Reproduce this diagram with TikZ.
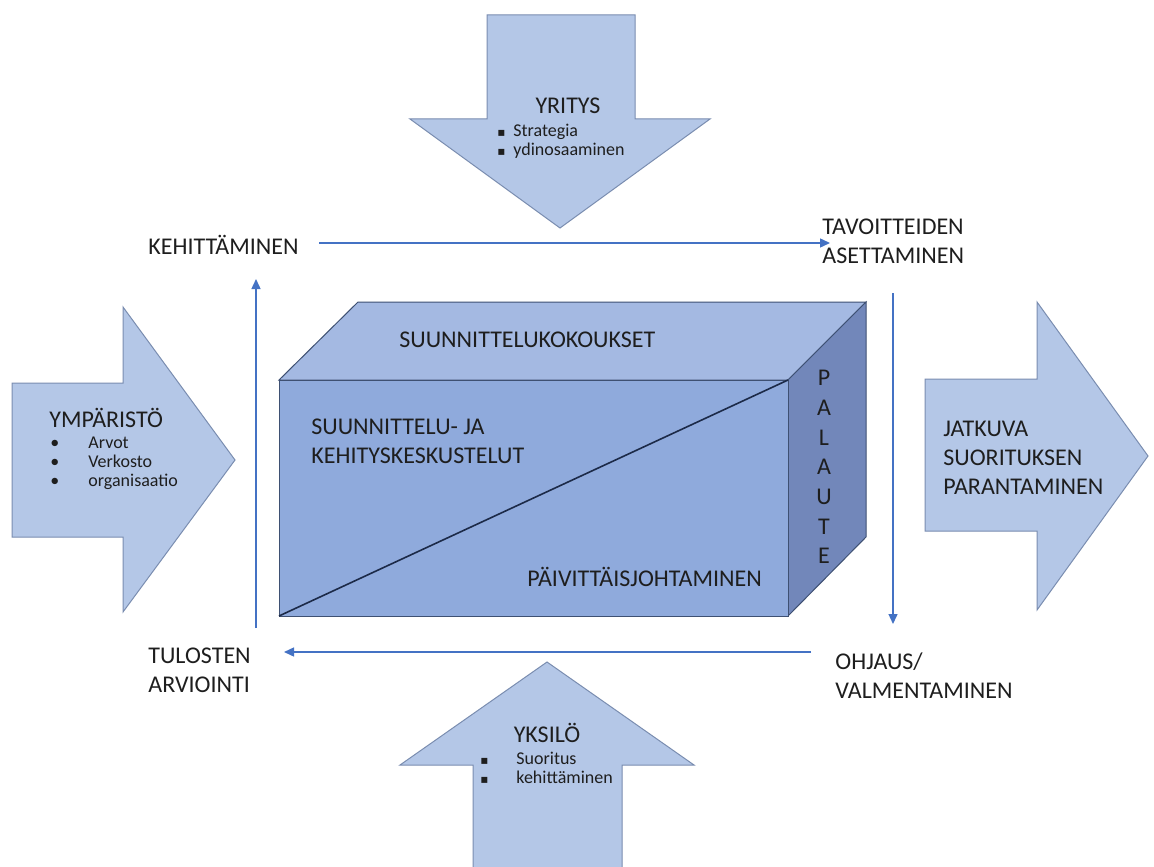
\documentclass[tikz,border=0pt]{standalone}
\usepackage{fontspec}
\setmainfont{Carlito}
\newfontfamily\dejavu{DejaVu Sans}
\usetikzlibrary{arrows.meta}
\definecolor{afill}{HTML}{B4C7E7}
\definecolor{aline}{HTML}{7A8DB0}
\definecolor{bfront}{HTML}{8FAADC}
\definecolor{btop}{HTML}{A4B9E2}
\definecolor{bright}{HTML}{7287BA}
\definecolor{bline}{HTML}{3E5072}
\definecolor{diag}{HTML}{1C2A48}
\definecolor{cblue}{HTML}{4472C4}
\definecolor{txt}{HTML}{1E1E1E}
\newcommand{\sqb}{{\dejavu\fontsize{6}{6}\selectfont\char"25AA}}
\begin{document}
\begin{tikzpicture}[x=0.5pt,y=-0.5pt,
  shapearrow/.style={fill=afill,draw=aline,line width=0.5pt,line join=miter},
  boxface/.style={draw=bline,line width=0.5pt,line join=miter},
  lbl/.style={inner sep=0pt,text=txt,font=\fontsize{12}{14.5}\selectfont,align=left},
  small/.style={inner sep=0pt,text=txt,font=\fontsize{9}{9.6}\selectfont,align=left},
  conn/.style={draw=cblue,line width=0.7pt,-{Triangle[length=5pt,width=4.5pt]}}]
\useasboundingbox (0,0) rectangle (1154,866);
\clip (0,0) rectangle (1154,866);
\fill[white] (0,0) rectangle (1154,866);

% top arrow (YRITYS)
\draw[shapearrow] (487,15) -- (635,15) -- (635,119) -- (710,119) -- (560,228) -- (410,119) -- (487,119) -- cycle;
% left arrow (YMPARISTO)
\draw[shapearrow] (12,383) -- (123,383) -- (123,307) -- (235,460) -- (123,612) -- (123,537) -- (12,537) -- cycle;
% right arrow (JATKUVA)
\draw[shapearrow] (925,379) -- (1037,379) -- (1037,302) -- (1148,456) -- (1037,610) -- (1037,531) -- (925,531) -- cycle;
% bottom arrow (YKSILO)
\draw[shapearrow] (473,880) -- (473,765) -- (400,765) -- (547,662) -- (694,765) -- (622,765) -- (622,880) -- cycle;

% box
\draw[boxface,fill=btop] (279,380) -- (358,302) -- (866,302) -- (788,380) -- cycle;
\draw[boxface,fill=bright] (788,380) -- (866,302) -- (866,537) -- (788,616) -- cycle;
\draw[boxface,fill=bfront] (279,380) rectangle (788,616);
\coordinate (dA) at (279,616);
\coordinate (dB) at (788,380);
\draw[draw=diag,line width=0.8pt] (dA) -- (dB);

% labels
\node[lbl,anchor=west] (keh) at (148,245) {KEHITTÄMINEN};
\node[lbl,anchor=west] (tav) at (822,241) {TAVOITTEIDEN\\ASETTAMINEN};
\node[lbl,anchor=west] (tul) at (148,670) {TULOSTEN\\ARVIOINTI};
\node[lbl,anchor=west] (ohj) at (835,676) {OHJAUS/\\VALMENTAMINEN};

\node[lbl,anchor=west] (suk) at (399,340) {SUUNNITTELUKOKOUKSET};
\node[lbl,anchor=west] (sjk) at (311,441) {SUUNNITTELU- JA\\KEHITYSKESKUSTELUT};
\node[lbl,anchor=west] (paj) at (527,577) {PÄIVITTÄISJOHTAMINEN};
\node[lbl,align=center,font=\fontsize{12}{14.85}\selectfont] (pal) at (824,467) {P\\A\\L\\A\\U\\T\\E};

\node[lbl] (yri) at (568,106) {YRITYS};
\node[small,anchor=west] (yril) at (497,141) {\makebox[8pt][l]{\sqb}Strategia\\\makebox[8pt][l]{\sqb}ydinosaaminen};
\node[lbl,anchor=west] (ymp) at (49,418) {YMPÄRISTÖ};
\node[small,anchor=west] (ympl) at (50,463) {\makebox[19pt][l]{\textbullet}Arvot\\\makebox[19pt][l]{\textbullet}Verkosto\\\makebox[19pt][l]{\textbullet}organisaatio};
\node[lbl,anchor=west] (jat) at (943,458) {JATKUVA\\SUORITUKSEN\\PARANTAMINEN};
\node[lbl] (yks) at (547,733) {YKSILÖ};
\node[small,anchor=west] (yksl) at (480,768) {\makebox[18pt][l]{\sqb}Suoritus\\\makebox[18pt][l]{\sqb}kehittäminen};

% connectors
\coordinate (c1) at (319,243);
\coordinate (c2) at (830,243);
\coordinate (c3) at (893,293);
\coordinate (c4) at (893,624);
\coordinate (c5) at (811,652);
\coordinate (c6) at (284,652);
\coordinate (c7) at (256,628);
\coordinate (c8) at (256,279);
\draw[conn] (c1) -- (c2);
\draw[conn] (c3) -- (c4);
\draw[conn] (c5) -- (c6);
\draw[conn] (c7) -- (c8);
\end{tikzpicture}
\end{document}
